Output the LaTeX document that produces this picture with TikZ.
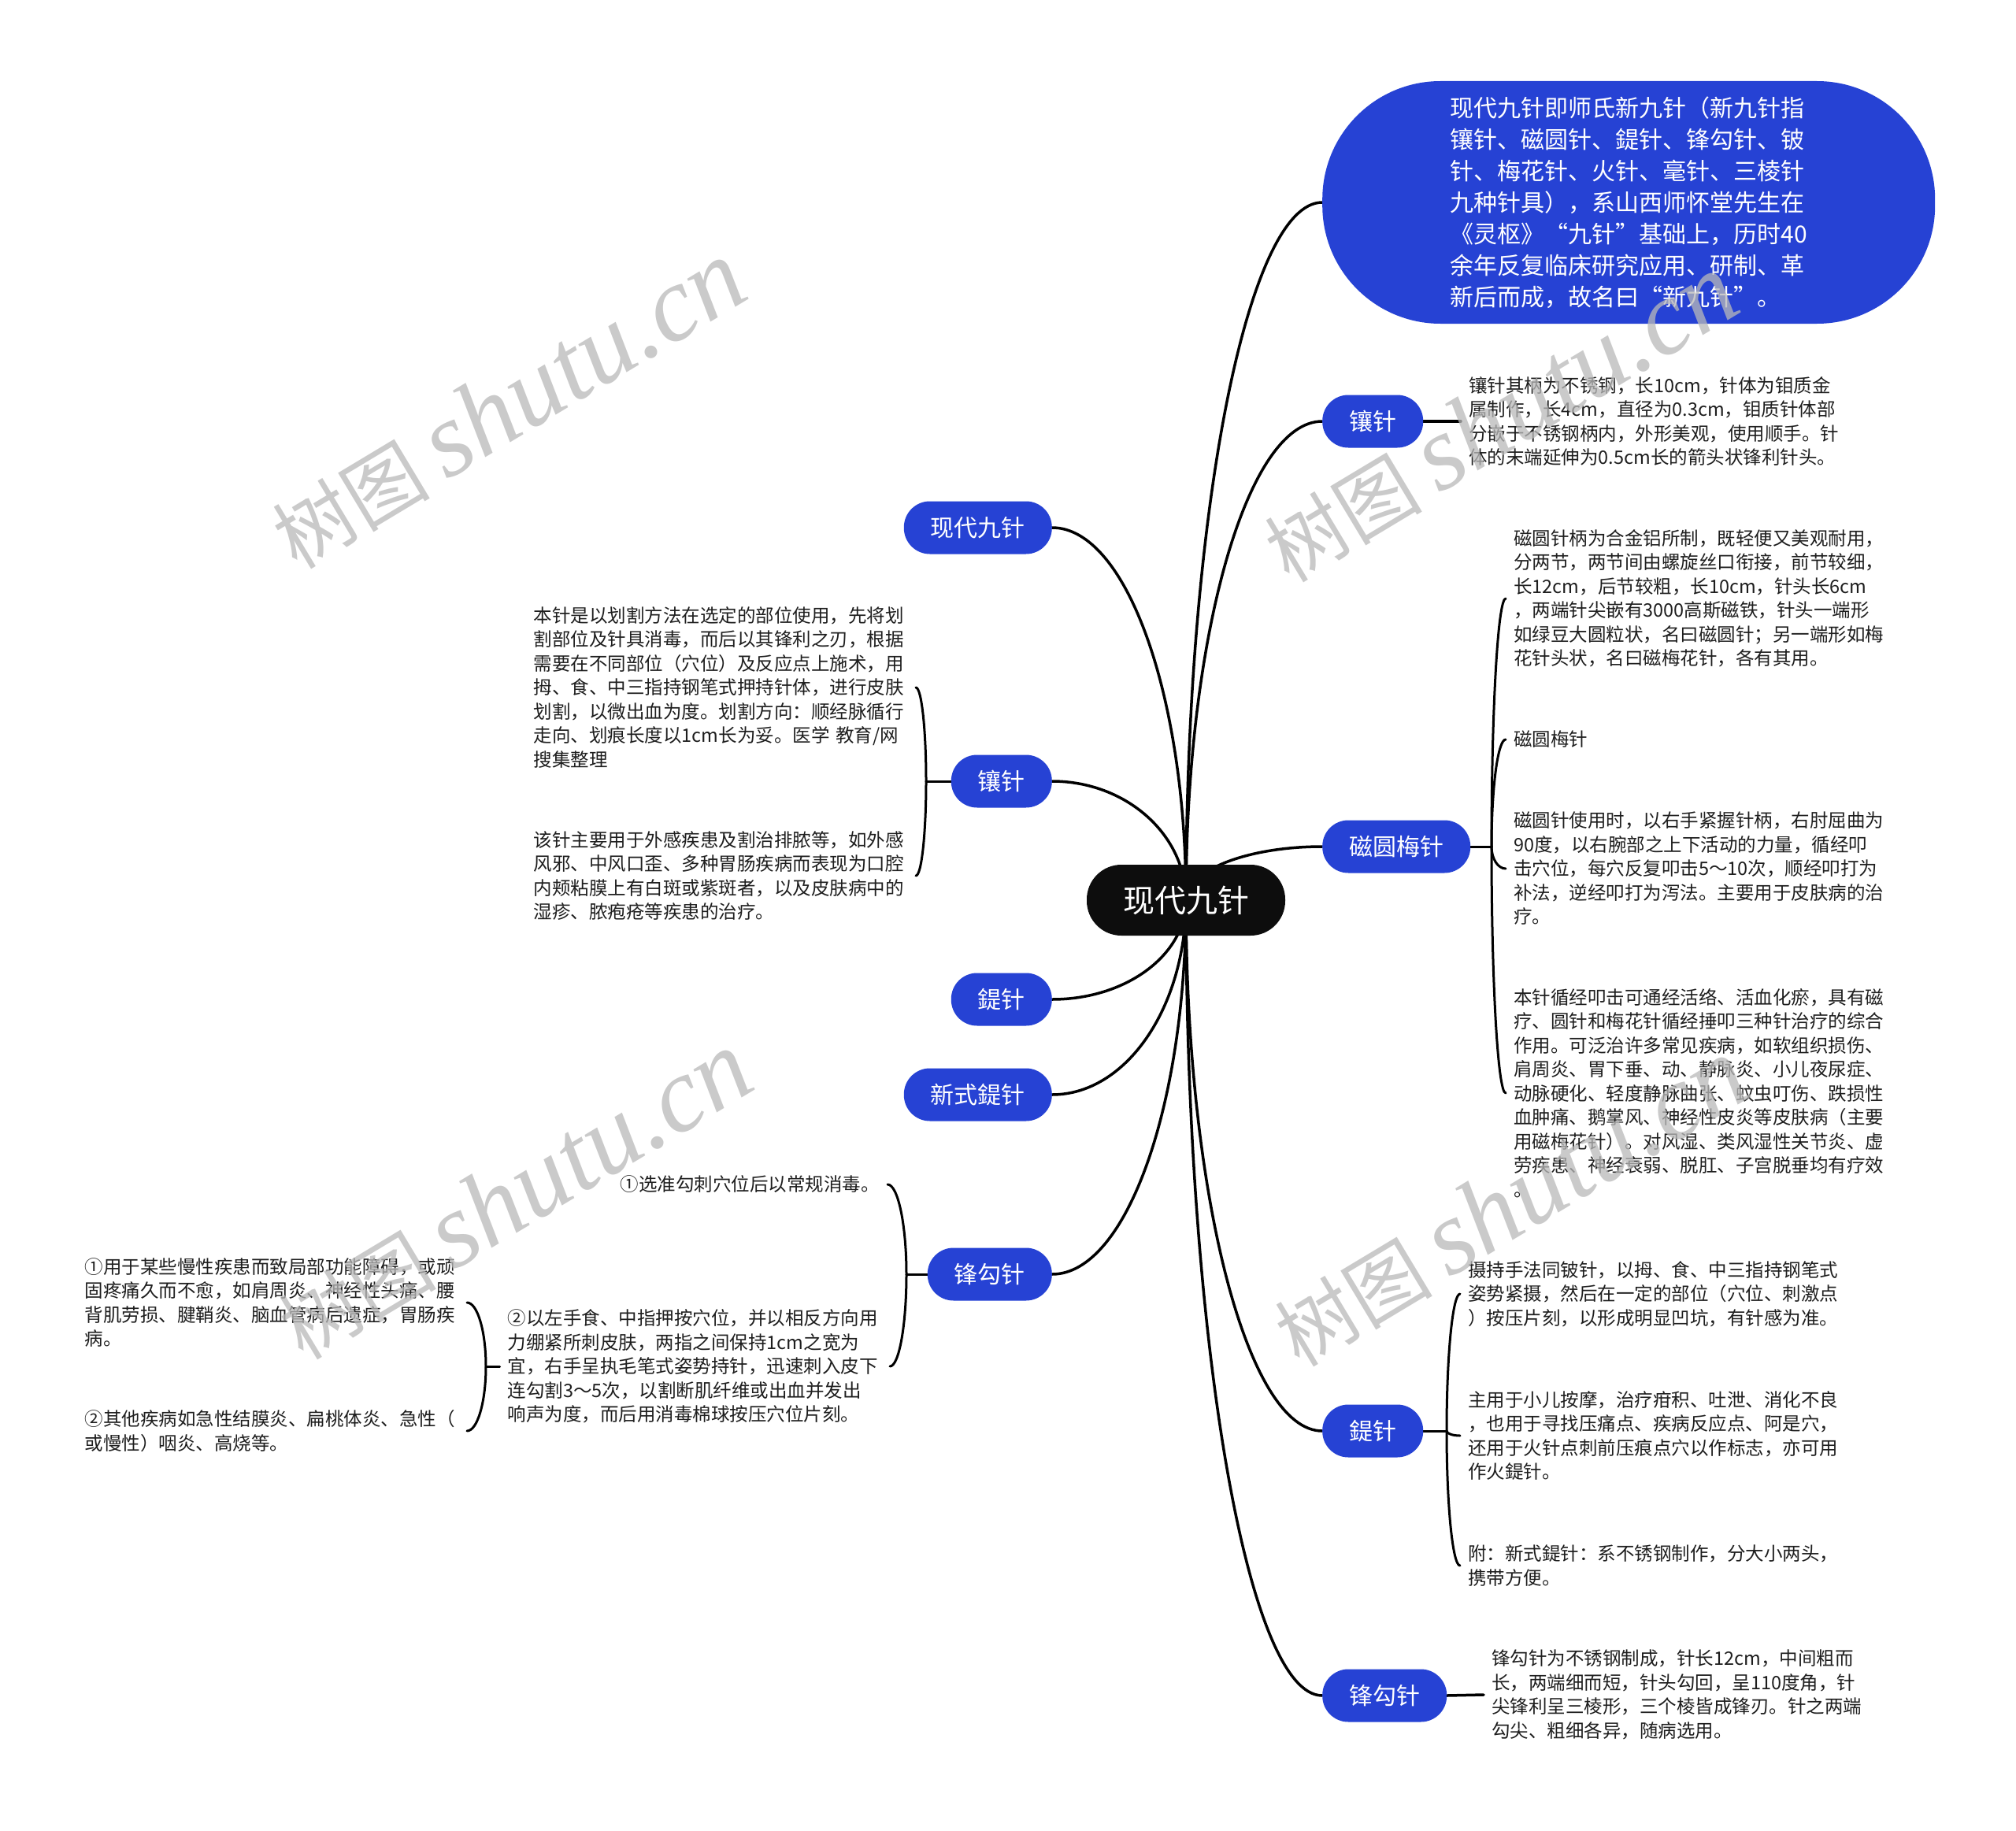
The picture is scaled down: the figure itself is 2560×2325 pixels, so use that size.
\documentclass[tikz,border=0pt]{standalone}
\usepackage{fontspec}
\setmainfont{Noto Sans CJK SC}
\newfontfamily\wmlatin{Liberation Serif}
\usetikzlibrary{calc,backgrounds}
\definecolor{pillblue}{RGB}{38,66,212}
\definecolor{nodeblack}{RGB}{13,13,13}
\definecolor{leafgray}{RGB}{30,30,30}
\definecolor{wmgray}{RGB}{185,185,185}
\tikzset{
  pill/.style={rectangle, rounded corners=33pt, fill=pillblue, text=white,
    font=\fontsize{30}{36}\selectfont, minimum height=67pt, inner xsep=34pt, inner ysep=0pt},
  rootnode/.style={rectangle, rounded corners=44pt, fill=nodeblack, text=white,
    font=\fontsize{40}{48}\selectfont, minimum height=90pt, inner xsep=46pt, inner ysep=0pt},
  bignode/.style={rectangle, rounded corners=150pt, fill=pillblue, text=white,
    minimum width=778pt, minimum height=308pt, font=\fontsize{30}{40}\selectfont,
    align=left, inner sep=0pt},
  leaf/.style={text=leafgray, font=\fontsize{23.5}{30.5}\selectfont, align=left,
    inner xsep=10pt, inner ysep=0pt},
  wide/.style={text width=475pt},
  mainline/.style={draw=black, line width=3.5pt, line cap=round},
  brline/.style={draw=black, line width=3pt, line cap=round},
  elbow/.style={to path={.. controls ($(\tikztostart)!0.552!(\tikztostart |- \tikztotarget)$)
      and ($(\tikztotarget)!0.552!(\tikztostart |- \tikztotarget)$) .. (\tikztotarget)}},
  wm/.style={text=wmgray, opacity=0.75, rotate=31, inner sep=0pt}
}
\newcommand{\wmtext}{{\fontsize{100}{100}\selectfont 树图}\hspace{22pt}{\wmlatin\itshape\fontsize{135}{135}\selectfont shutu.cn}}
\begin{document}
\begin{tikzpicture}[x=1pt,y=-1pt]
\begin{pgfonlayer}{background}
\fill[white] (0,0) rectangle (2560,2325);
\end{pgfonlayer}
\useasboundingbox (0,0) rectangle (2560,2325);

% central
\node[rootnode] (C) at (1506,1143) {现代九针};

% right side
\node[bignode, anchor=west] (R0) at (1679,257) {现代九针即师氏新九针（新九针指\\镶针、磁圆针、鍉针、锋勾针、铍\\针、梅花针、火针、毫针、三棱针\\九种针具），系山西师怀堂先生在\\《灵枢》“九针”基础上，历时40\\余年反复临床研究应用、研制、革\\新后而成，故名曰“新九针”。};
\node[pill, anchor=west] (R1) at (1679,535) {镶针};
\node[pill, anchor=west] (R2) at (1679,1075) {磁圆梅针};
\node[pill, anchor=west] (R3) at (1679,1817) {鍉针};
\node[pill, anchor=west] (R4) at (1679,2153) {锋勾针};

% left side
\node[pill, anchor=east] (L1) at (1336,670) {现代九针};
\node[pill, anchor=east] (L2) at (1336,992) {镶针};
\node[pill, anchor=east] (L3) at (1336,1269) {鍉针};
\node[pill, anchor=east] (L4) at (1336,1390) {新式鍉针};
\node[pill, anchor=east] (L5) at (1336,1618) {锋勾针};

% right leaves
\node[leaf, wide, anchor=west] (r1t) at (1855,535) {镶针其柄为不锈钢，长10cm，针体为钼质金\\属制作，长4cm，直径为0.3cm，钼质针体部\\分嵌于不锈钢柄内，外形美观，使用顺手。针\\体的末端延伸为0.5cm长的箭头状锋利针头。};
\node[leaf, wide, anchor=west] (r2c1) at (1912,760) {磁圆针柄为合金铝所制，既轻便又美观耐用，\\分两节，两节间由螺旋丝口衔接，前节较细，\\长12cm，后节较粗，长10cm，针头长6cm\\，两端针尖嵌有3000高斯磁铁，针头一端形\\如绿豆大圆粒状，名曰磁圆针；另一端形如梅\\花针头状，名曰磁梅花针，各有其用。};
\node[leaf, anchor=west] (r2c2) at (1912,939) {磁圆梅针};
\node[leaf, wide, anchor=west] (r2c3) at (1912,1103) {磁圆针使用时，以右手紧握针柄，右肘屈曲为\\90度，以右腕部之上下活动的力量，循经叩\\击穴位，每穴反复叩击5～10次，顺经叩打为\\补法，逆经叩打为泻法。主要用于皮肤病的治\\疗。};
\node[leaf, wide, anchor=west] (r2c4) at (1912,1388) {本针循经叩击可通经活络、活血化瘀，具有磁\\疗、圆针和梅花针循经捶叩三种针治疗的综合\\作用。可泛治许多常见疾病，如软组织损伤、\\肩周炎、胃下垂、动、静脉炎、小儿夜尿症、\\动脉硬化、轻度静脉曲张、蚊虫叮伤、跌损性\\血肿痛、鹅掌风、神经性皮炎等皮肤病（主要\\用磁梅花针）。对风湿、类风湿性关节炎、虚\\劳疾患、神经衰弱、脱肛、子宫脱垂均有疗效\\。};
\node[leaf, wide, anchor=west] (r3c1) at (1854,1643) {摄持手法同铍针，以拇、食、中三指持钢笔式\\姿势紧摄，然后在一定的部位（穴位、刺激点\\）按压片刻，以形成明显凹坑，有针感为准。};
\node[leaf, wide, anchor=west] (r3c2) at (1854,1823) {主用于小儿按摩，治疗疳积、吐泄、消化不良\\，也用于寻找压痛点、疾病反应点、阿是穴，\\还用于火针点刺前压痕点穴以作标志，亦可用\\作火鍉针。};
\node[leaf, wide, anchor=west] (r3c3) at (1854,1988) {附：新式鍉针：系不锈钢制作，分大小两头，\\携带方便。};
\node[leaf, wide, anchor=west] (r4t) at (1884,2152) {锋勾针为不锈钢制成，针长12cm，中间粗而\\长，两端细而短，针头勾回，呈110度角，针\\尖锋利呈三棱形，三个棱皆成锋刃。针之两端\\勾尖、粗细各异，随病选用。};

% left leaves
\node[leaf, wide, anchor=east] (l2c1) at (1163,873) {本针是以划割方法在选定的部位使用，先将划\\割部位及针具消毒，而后以其锋利之刃，根据\\需要在不同部位（穴位）及反应点上施术，用\\拇、食、中三指持钢笔式押持针体，进行皮肤\\划割，以微出血为度。划割方向：顺经脉循行\\走向、划痕长度以1cm长为妥。医学 教育/网\\搜集整理};
\node[leaf, wide, anchor=east] (l2c2) at (1163,1112) {该针主要用于外感疾患及割治排脓等，如外感\\风邪、中风口歪、多种胃肠疾病而表现为口腔\\内颊粘膜上有白斑或紫斑者，以及皮肤病中的\\湿疹、脓疱疮等疾患的治疗。};
\node[leaf, anchor=east] (l5c1) at (1127,1504) {①选准勾刺穴位后以常规消毒。};
\node[leaf, wide, anchor=east] (l5c2) at (1130,1735) {②以左手食、中指押按穴位，并以相反方向用\\力绷紧所刺皮肤，两指之间保持1cm之宽为\\宜，右手呈执毛笔式姿势持针，迅速刺入皮下\\连勾割3～5次，以割断肌纤维或出血并发出\\响声为度，而后用消毒棉球按压穴位片刻。};
\node[leaf, wide, anchor=east] (l5cc1) at (593,1654) {①用于某些慢性疾患而致局部功能障碍，或顽\\固疼痛久而不愈，如肩周炎、神经性头痛、腰\\背肌劳损、腱鞘炎、脑血管病后遗症，胃肠疾\\病。};
\node[leaf, wide, anchor=east] (l5cc2) at (593,1817) {②其他疾病如急性结膜炎、扁桃体炎、急性（\\或慢性）咽炎、高烧等。};

% trunk points
\coordinate (tR2) at (1894,1075);
\coordinate (tR3) at (1837,1817);
\coordinate (tL2) at (1176,992);
\coordinate (tL5) at (1151,1618);
\coordinate (tL52) at (617,1735);

\begin{pgfonlayer}{background}
\draw[mainline] (C.center) to[elbow] (R0.west);
\draw[mainline] (C.center) to[elbow] (R1.west);
\draw[mainline] (C.center) to[elbow] (R2.west);
\draw[mainline] (C.center) to[elbow] (R3.west);
\draw[mainline] (C.center) to[elbow] (R4.west);
\draw[mainline] (C.center) to[elbow] (L1.east);
\draw[mainline] (C.center) to[elbow] (L2.east);
\draw[mainline] (C.center) to[elbow] (L3.east);
\draw[mainline] (C.center) to[elbow] (L4.east);
\draw[mainline] (C.center) to[elbow] (L5.east);

\draw[mainline] (R1.east) -- (r1t.west);
\draw[mainline] (R4.east) -- (r4t.west);

\draw[brline] (R2.east) -- (tR2);
\draw[brline] (tR2) to[elbow] (r2c1.west);
\draw[brline] (tR2) to[elbow] (r2c2.west);
\draw[brline] (tR2) to[elbow] (r2c3.west);
\draw[brline] (tR2) to[elbow] (r2c4.west);

\draw[brline] (R3.east) -- (tR3);
\draw[brline] (tR3) to[elbow] (r3c1.west);
\draw[brline] (tR3) to[elbow] (r3c2.west);
\draw[brline] (tR3) to[elbow] (r3c3.west);

\draw[brline] (L2.west) -- (tL2);
\draw[brline] (tL2) to[elbow] (l2c1.east);
\draw[brline] (tL2) to[elbow] (l2c2.east);

\draw[brline] (L5.west) -- (tL5);
\draw[brline] (tL5) to[elbow] (l5c1.east);
\draw[brline] (tL5) to[elbow] (l5c2.east);

\draw[brline] (l5c2.west) -- (tL52);
\draw[brline] (tL52) to[elbow] (l5cc1.east);
\draw[brline] (tL52) to[elbow] (l5cc2.east);
\end{pgfonlayer}

% watermarks
\node[wm] (wm1) at (645,514) {\wmtext};
\node[wm] (wm2) at (1905,531) {\wmtext};
\node[wm] (wm3) at (653,1518) {\wmtext};
\node[wm] (wm4) at (1918,1527) {\wmtext};
\end{tikzpicture}
\end{document}
